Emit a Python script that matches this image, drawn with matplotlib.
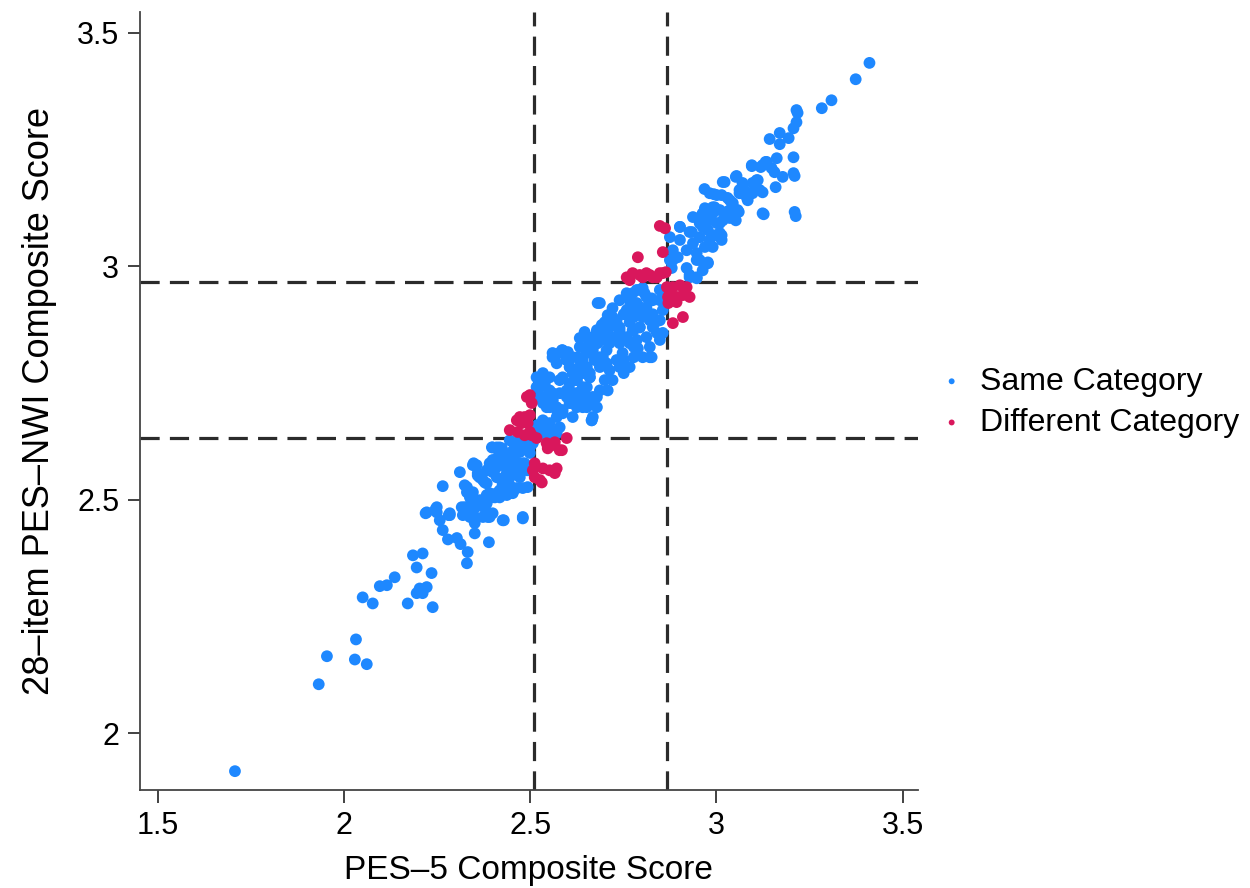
import matplotlib.pyplot as plt

# 数据：PES-5 与 28 项 PES-NWI 综合得分
same_x = [
    1.707, 1.932, 1.954, 2.032, 2.029, 2.061, 2.050, 2.077, 2.096, 2.115, 2.136, 2.171, 2.195,
    2.203, 2.222, 2.211, 2.235, 2.238, 2.185, 2.211, 2.195,
    2.219, 2.246, 2.257, 2.265, 2.281, 2.265, 2.279, 2.303, 2.313, 2.332, 2.330, 2.311, 2.324,
    2.330, 2.324, 2.319, 2.346, 2.346, 2.351, 2.351, 2.351, 2.348, 2.359, 2.378, 2.383, 2.378,
    2.386, 2.389, 2.391, 2.399, 2.405, 2.418, 2.429, 2.426, 2.440, 2.453, 2.480, 2.480, 2.493,
    2.399, 2.418, 2.437, 2.453, 2.464, 2.480, 2.418, 2.445, 2.472, 2.499, 2.499, 2.383,
    2.346, 2.359, 2.373, 2.397, 2.410, 2.424, 2.399, 2.413, 2.432, 2.450, 2.445, 2.458, 2.466,
    2.472, 2.480, 2.491, 2.499, 2.507, 2.410, 2.426, 2.445, 2.464, 2.472, 2.491, 2.453, 2.437,
    2.410, 2.426, 2.445, 2.464, 2.410, 2.418, 2.397, 2.373, 2.437, 2.453, 2.338, 2.330, 2.351,
    2.284, 2.249, 2.480, 2.373, 2.399,
    2.330, 2.338, 2.316, 2.222, 2.249, 2.284, 2.356, 2.364, 2.383, 2.426, 2.485, 2.472, 2.437,
    2.418, 2.445, 2.391, 2.383, 2.364, 2.338, 2.391, 2.426,
    2.517, 2.534, 2.552, 2.526, 2.544, 2.560, 2.579, 2.598, 2.606, 2.625, 2.641, 2.652, 2.668,
    2.665, 2.625, 2.606, 2.587, 2.571, 2.552, 2.534, 2.520, 2.526, 2.544, 2.560, 2.579, 2.571,
    2.587, 2.552, 2.534,
    2.517, 2.526, 2.539, 2.552, 2.560, 2.534, 2.571, 2.587, 2.579, 2.566, 2.585, 2.601, 2.598,
    2.606, 2.614, 2.627, 2.638, 2.625, 2.606, 2.598, 2.627, 2.641, 2.652, 2.660, 2.655, 2.633,
    2.646, 2.668, 2.679, 2.681, 2.673, 2.687, 2.695, 2.705, 2.700, 2.692, 2.713, 2.708, 2.721,
    2.732, 2.740, 2.727, 2.740, 2.748, 2.732, 2.713, 2.721, 2.700, 2.687, 2.679, 2.708, 2.751,
    2.759, 2.767, 2.775, 2.794, 2.807, 2.786, 2.781, 2.767, 2.775, 2.786, 2.789, 2.767, 2.759,
    2.794, 2.802, 2.812, 2.826, 2.821, 2.834, 2.840, 2.802, 2.821, 2.829, 2.848, 2.687, 2.641,
    2.652, 2.665, 2.579, 2.552, 2.544, 2.560, 2.606, 2.614, 2.679, 2.641, 2.668,
    2.681, 2.740, 2.759, 2.786, 2.802, 2.812, 2.829, 2.848, 2.856, 2.794, 2.767, 2.721, 2.700,
    2.751, 2.778, 2.812, 2.829, 2.848, 2.652, 2.679, 2.705, 2.740, 2.732, 2.713, 2.778, 2.794,
    2.812, 2.821, 2.848, 2.856, 2.633, 2.652, 2.668, 2.687, 2.705, 2.579, 2.598, 2.571, 2.614,
    2.560, 2.606, 2.633, 2.660, 2.778, 2.778, 2.826, 2.767, 2.751, 2.740,
    2.560, 2.587, 2.606, 2.633, 2.614, 2.641, 2.660, 2.668, 2.652, 2.665, 2.625, 2.614, 2.579,
    2.552, 2.534, 2.544, 2.571, 2.544, 2.526, 2.668, 2.646,
    2.875, 2.902, 2.883, 2.883, 2.880, 2.902, 2.920, 2.928, 2.937, 2.947, 2.955, 2.963, 2.961,
    2.974, 2.977, 2.982, 2.969, 2.955, 2.977, 2.990, 2.995, 3.001, 2.990, 3.009, 3.017, 3.009,
    3.014, 2.990, 2.969, 2.982, 3.001, 3.017, 3.030, 3.036, 3.044, 3.052, 3.057, 3.062, 3.052,
    3.070, 3.081, 3.084, 3.097, 3.108, 3.116, 3.095, 3.124, 3.135, 3.124, 2.937, 2.947, 2.963,
    2.977, 2.928, 2.947, 2.896, 2.920, 2.875, 2.928, 2.947,
    3.411, 3.374, 3.309, 3.283, 3.215, 3.218, 3.215, 3.207, 3.170, 3.143, 3.170, 3.194, 3.207,
    3.162, 3.132, 3.119, 3.095, 3.148, 3.156, 3.178, 3.207, 3.210, 3.111, 3.159, 3.124, 3.054,
    3.022, 2.968, 2.993, 3.014, 3.036, 3.062, 3.070, 3.081, 3.097, 3.127, 3.210, 3.213, 3.060,
    3.028, 2.995, 2.963, 2.902, 2.934, 2.955, 2.982, 3.009, 3.036, 3.014,
]
same_y = [
    1.919, 2.105, 2.165, 2.201, 2.158, 2.148, 2.291, 2.278, 2.315, 2.317, 2.334, 2.278, 2.300,
    2.310, 2.313, 2.300, 2.343, 2.270, 2.381, 2.385, 2.355,
    2.471, 2.480, 2.456, 2.435, 2.467, 2.529, 2.415, 2.418, 2.405, 2.388, 2.364, 2.559, 2.531,
    2.516, 2.484, 2.467, 2.516, 2.495, 2.463, 2.450, 2.428, 2.578, 2.557, 2.537, 2.510, 2.482,
    2.463, 2.409, 2.578, 2.559, 2.505, 2.516, 2.456, 2.531, 2.514, 2.516, 2.460, 2.525, 2.527,
    2.612, 2.612, 2.580, 2.591, 2.570, 2.578, 2.578, 2.548, 2.557, 2.600, 2.563, 2.563,
    2.574, 2.552, 2.542, 2.612, 2.612, 2.610, 2.585, 2.591, 2.591, 2.602, 2.627, 2.612, 2.623,
    2.602, 2.612, 2.617, 2.612, 2.621, 2.570, 2.574, 2.578, 2.580, 2.570, 2.563, 2.563, 2.557,
    2.548, 2.535, 2.531, 2.525, 2.514, 2.505, 2.505, 2.499, 2.510, 2.514, 2.514, 2.484, 2.482,
    2.471, 2.484, 2.463, 2.463, 2.471,
    2.527, 2.505, 2.484, 2.473, 2.473, 2.467, 2.574, 2.548, 2.535, 2.600, 2.578, 2.548, 2.542,
    2.520, 2.514, 2.514, 2.492, 2.499, 2.463, 2.463, 2.456,
    2.741, 2.749, 2.734, 2.720, 2.707, 2.713, 2.728, 2.734, 2.749, 2.756, 2.741, 2.720, 2.707,
    2.670, 2.728, 2.707, 2.692, 2.677, 2.664, 2.670, 2.660, 2.645, 2.649, 2.645, 2.655, 2.692,
    2.762, 2.762, 2.771,
    2.762, 2.741, 2.749, 2.730, 2.713, 2.720, 2.698, 2.685, 2.756, 2.809, 2.820, 2.816, 2.799,
    2.784, 2.771, 2.805, 2.792, 2.756, 2.734, 2.720, 2.728, 2.713, 2.741, 2.762, 2.827, 2.846,
    2.859, 2.848, 2.863, 2.835, 2.799, 2.784, 2.805, 2.820, 2.842, 2.874, 2.869, 2.895, 2.910,
    2.884, 2.863, 2.848, 2.835, 2.814, 2.799, 2.777, 2.756, 2.756, 2.734, 2.720, 2.734, 2.799,
    2.906, 2.927, 2.942, 2.949, 2.942, 2.921, 2.900, 2.880, 2.863, 2.842, 2.824, 2.835, 2.848,
    2.869, 2.891, 2.912, 2.931, 2.884, 2.878, 2.857, 2.805, 2.805, 2.869, 2.949, 2.921, 2.799,
    2.784, 2.814, 2.692, 2.707, 2.698, 2.728, 2.707, 2.713, 2.698, 2.698, 2.677,
    2.921, 2.927, 2.942, 2.949, 2.953, 2.934, 2.927, 2.927, 2.906, 2.912, 2.912, 2.891, 2.880,
    2.897, 2.891, 2.906, 2.897, 2.884, 2.848, 2.857, 2.859, 2.869, 2.848, 2.835, 2.863, 2.869,
    2.848, 2.827, 2.842, 2.857, 2.827, 2.814, 2.820, 2.805, 2.792, 2.814, 2.799, 2.792, 2.805,
    2.805, 2.784, 2.784, 2.771, 2.827, 2.805, 2.805, 2.784, 2.771, 2.784,
    2.814, 2.820, 2.805, 2.799, 2.777, 2.771, 2.762, 2.720, 2.698, 2.670, 2.698, 2.677, 2.685,
    2.698, 2.707, 2.655, 2.642, 2.634, 2.649, 2.835, 2.848,
    3.062, 3.084, 3.034, 3.013, 2.996, 3.056, 3.034, 3.073, 3.049, 3.028, 3.062, 3.084, 3.109,
    3.105, 3.077, 3.056, 3.041, 3.013, 3.006, 3.041, 3.066, 3.092, 3.113, 3.120, 3.098, 3.071,
    3.056, 3.126, 3.124, 3.156, 3.152, 3.180, 3.146, 3.120, 3.135, 3.098, 3.120, 3.156, 3.191,
    3.178, 3.158, 3.141, 3.178, 3.184, 3.163, 3.216, 3.216, 3.223, 3.113, 3.105, 3.013, 2.991,
    3.008, 2.981, 2.976, 3.019, 2.996, 3.013, 2.976, 2.974,
    3.435, 3.400, 3.355, 3.338, 3.334, 3.328, 3.308, 3.295, 3.285, 3.272, 3.261, 3.274, 3.233,
    3.231, 3.223, 3.212, 3.214, 3.210, 3.201, 3.191, 3.199, 3.193, 3.184, 3.169, 3.158, 3.193,
    3.180, 3.165, 3.154, 3.152, 3.141, 3.163, 3.169, 3.148, 3.156, 3.111, 3.116, 3.107, 3.116,
    3.116, 3.126, 3.113, 3.084, 3.073, 3.092, 3.098, 3.092, 3.103, 3.066,
]

diff_x = [
    2.499, 2.491, 2.504, 2.499, 2.485, 2.472, 2.464, 2.477, 2.493, 2.499, 2.445, 2.466, 2.485,
    2.504, 2.517, 2.544, 2.566, 2.579, 2.598, 2.547, 2.512, 2.534, 2.552, 2.571, 2.566, 2.512,
    2.526, 2.507, 2.560, 2.585, 2.531,
    2.759, 2.775, 2.794, 2.812, 2.829, 2.848, 2.864, 2.789, 2.767, 2.802, 2.821, 2.840, 2.856,
    2.848, 2.862, 2.856,
    2.867, 2.883, 2.902, 2.920, 2.875, 2.893, 2.910, 2.871, 2.893, 2.910, 2.883, 2.928, 2.875,
    2.870,
]
diff_y = [
    2.724, 2.720, 2.707, 2.681, 2.677, 2.677, 2.670, 2.664, 2.664, 2.645, 2.649, 2.645, 2.638,
    2.638, 2.632, 2.621, 2.623, 2.606, 2.632, 2.610, 2.578, 2.567, 2.563, 2.567, 2.557, 2.548,
    2.542, 2.563, 2.617, 2.606, 2.537,
    2.976, 2.985, 2.981, 2.985, 2.976, 2.985, 2.987, 3.019, 2.970, 2.976, 2.981, 2.976, 2.985,
    3.086, 3.081, 3.030,
    2.955, 2.955, 2.959, 2.955, 2.942, 2.934, 2.938, 2.921, 2.923, 2.891, 2.878, 2.934, 2.949,
    2.934,
]

cut_x = [2.51, 2.867]
cut_y = [2.633, 2.966]

plt.rcParams['font.family'] = ['Liberation Sans', 'DejaVu Sans']

fig = plt.figure(figsize=(12.5, 8.88), dpi=100)
ax = fig.add_axes([0.112, 0.110, 0.622, 0.876])

ax.scatter(same_x, same_y, s=72, color='#1e88ff', edgecolors='none', label='Same Category', zorder=3)
ax.scatter(diff_x, diff_y, s=72, color='#d9175c', edgecolors='none', label='Different Category', zorder=3)

# 分界虚线
for cx in cut_x:
    ax.axvline(cx, color='#2b2b2b', lw=2.3, dashes=(6.0, 3.2), zorder=2)
for cy in cut_y:
    ax.axhline(cy, color='#2b2b2b', lw=2.3, dashes=(6.0, 3.2), zorder=2)
# 实线段
ax.plot([cut_x[0], cut_x[0]], [cut_y[0], 2.77], color='#2b2b2b', lw=2.0, zorder=2)
ax.plot([cut_x[1], cut_x[1]], [cut_y[1], 3.07], color='#2b2b2b', lw=2.0, zorder=2)

ax.set_xlim(1.452, 3.54)
ax.set_ylim(1.878, 3.543)
ax.set_xticks([1.5, 2, 2.5, 3, 3.5])
ax.set_xticklabels(['1.5', '2', '2.5', '3', '3.5'])
ax.set_yticks([2, 2.5, 3, 3.5])
ax.set_yticklabels(['2', '2.5', '3', '3.5'])
ax.tick_params(direction='out', length=9, width=1.3, labelsize=22, color='#333333', pad=6)
for side in ['top', 'right']:
    ax.spines[side].set_visible(False)
for side in ['left', 'bottom']:
    ax.spines[side].set_linewidth(1.3)
    ax.spines[side].set_color('#444444')

ax.set_xlabel('PES\u20135 Composite Score', fontsize=24, labelpad=10)
ax.set_ylabel('28\u2013item PES\u2013NWI Composite Score', fontsize=26, labelpad=14)

fig.legend(loc='center left', bbox_to_anchor=(0.723, 0.547), frameon=False, fontsize=23,
           markerscale=0.5, handletextpad=0.3, labelspacing=0.35, handlelength=1.2)

fig.savefig('out.png', dpi=100)
